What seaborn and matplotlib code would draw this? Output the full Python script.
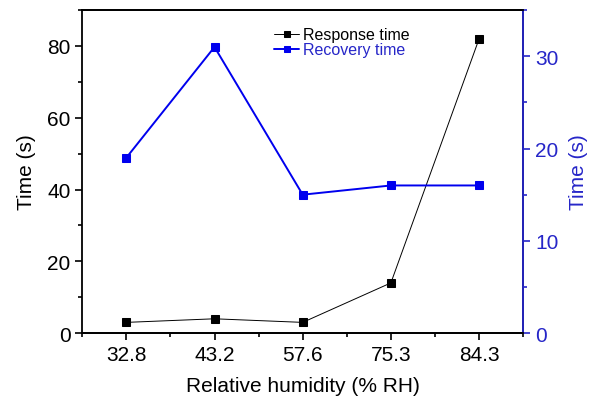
import numpy as np
import pandas as pd
import matplotlib
matplotlib.use("Agg")
import matplotlib.pyplot as plt
from matplotlib.ticker import MultipleLocator
import seaborn as sns

humidity = ["32.8", "43.2", "57.6", "75.3", "84.3"]
response_time = [3, 4, 3, 14, 82]
recovery_time = [19, 31, 15, 16, 16]

df = pd.DataFrame({"pos": np.arange(len(humidity)),
                   "humidity": humidity,
                   "response": response_time,
                   "recovery": recovery_time})

sns.set_style("ticks", {"axes.edgecolor": "black", "xtick.color": "black",
                        "ytick.color": "black", "text.color": "black",
                        "axes.labelcolor": "black"})
plt.rcParams["font.family"] = ["Liberation Sans", "DejaVu Sans"]

blue_axis = "#2626c8"

fig, ax = plt.subplots(figsize=(6, 4.1), dpi=100)
fig.subplots_adjust(left=0.137, right=0.872, top=0.973, bottom=0.185)
ax2 = ax.twinx()

sns.lineplot(data=df, x="pos", y="response", ax=ax, color="black", lw=0.7,
             marker="s", markersize=5.5, markeredgecolor="black",
             label="Response time", legend=False)
sns.lineplot(data=df, x="pos", y="recovery", ax=ax2, color="#0000ee", lw=1.4,
             marker="s", markersize=5.5, markeredgecolor="#0000ee",
             label="Recovery time", legend=False)

ax.set_xlim(-0.5, len(humidity) - 0.5)
ax.set_xticks(df["pos"])
ax.set_xticklabels(humidity)
ax.xaxis.set_minor_locator(MultipleLocator(0.5))
ax.set_ylim(0, 90)
ax.yaxis.set_major_locator(MultipleLocator(20))
ax.yaxis.set_minor_locator(MultipleLocator(10))
ax2.set_ylim(0, 35)
ax2.yaxis.set_major_locator(MultipleLocator(10))
ax2.yaxis.set_minor_locator(MultipleLocator(5))

ax.set_xlabel("Relative humidity (% RH)", fontsize=15, labelpad=9)
ax.set_ylabel("Time (s)", fontsize=15, labelpad=8)
ax2.set_ylabel("Time (s)", fontsize=15, color=blue_axis, labelpad=8)

ax.tick_params(axis="both", which="major", labelsize=15, length=5, width=1.2, direction="out")
ax.tick_params(axis="both", which="minor", length=3, width=1.2, direction="out")
ax2.tick_params(axis="y", which="major", labelsize=15, length=5, width=1.2,
                colors=blue_axis, direction="out")
ax2.tick_params(axis="y", which="minor", length=3, width=1.2, colors=blue_axis)

for sp in ax.spines.values():
    sp.set_linewidth(1.3)
for sp in ax2.spines.values():
    sp.set_linewidth(1.3)
ax2.spines["right"].set_color(blue_axis)
ax2.spines["left"].set_visible(False)

h1, l1 = ax.get_legend_handles_labels()
h2, l2 = ax2.get_legend_handles_labels()
leg = ax2.legend(h1 + h2, l1 + l2, loc="upper left", bbox_to_anchor=(0.443, 0.95),
                 bbox_transform=fig.transFigure, frameon=False, fontsize=11.5,
                 handlelength=1.6, handletextpad=0.2, labelspacing=0.0,
                 borderpad=0, markerscale=0.8)
leg.get_texts()[1].set_color(blue_axis)

fig.savefig("out.png", dpi=100)
